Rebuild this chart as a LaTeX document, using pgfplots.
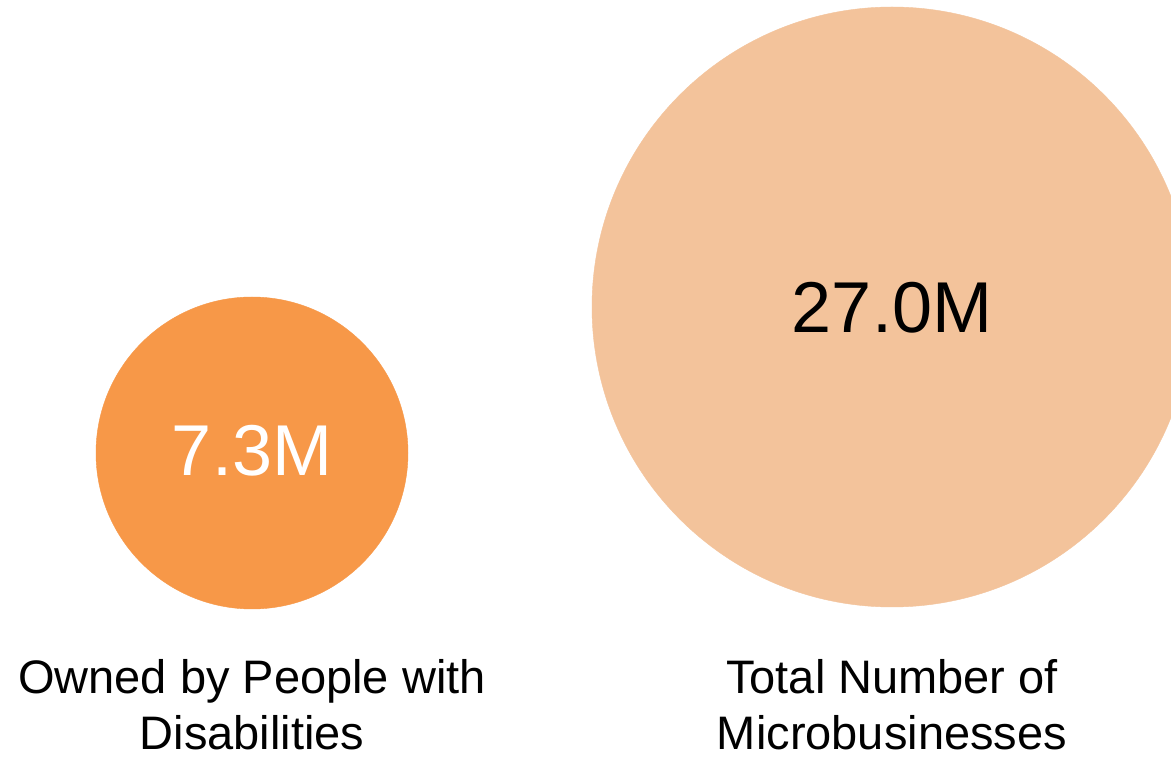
\documentclass[border=0pt]{standalone}
\usepackage{pgfplots}
\pgfplotsset{compat=1.18}
\usepackage{fontspec}
\setmainfont{Liberation Sans}
\definecolor{darkor}{RGB}{247,152,72}
\definecolor{lightor}{RGB}{243,195,155}
\begin{document}
\begin{tikzpicture}
\begin{axis}[
  x=1pt, y=1pt,
  xmin=0, xmax=1171, ymin=0, ymax=761,
  hide axis, clip=true, clip marker paths=true,
]
% invisible frame fixes the picture size
\addplot[draw=none, fill=white] coordinates {(0,0) (1171,0) (1171,761) (0,761) (0,0)};
% bubbles: value in millions, radius = 300pt*sqrt(v/27)
\addplot[darkor, only marks, mark=*, mark size=156pt, mark options={draw=darkor, fill=darkor}] coordinates {(252,308)};
\addplot[lightor, only marks, mark=*, mark size=300pt, mark options={draw=lightor, fill=lightor}] coordinates {(892,454)};
\node[text=white, font=\fontsize{72}{80}\selectfont, anchor=base] at (axis cs:252,285) {7.3M};
\node[text=black, font=\fontsize{72}{80}\selectfont, anchor=base] at (axis cs:892,428) {27.0M};
\node[align=center, font=\fontsize{47}{57}\selectfont, anchor=base] at (axis cs:252,11) {Owned by People with\\Disabilities};
\node[align=center, font=\fontsize{47}{57}\selectfont, anchor=base] at (axis cs:892,11) {Total Number of\\Microbusinesses};
\end{axis}
\end{tikzpicture}
\end{document}
